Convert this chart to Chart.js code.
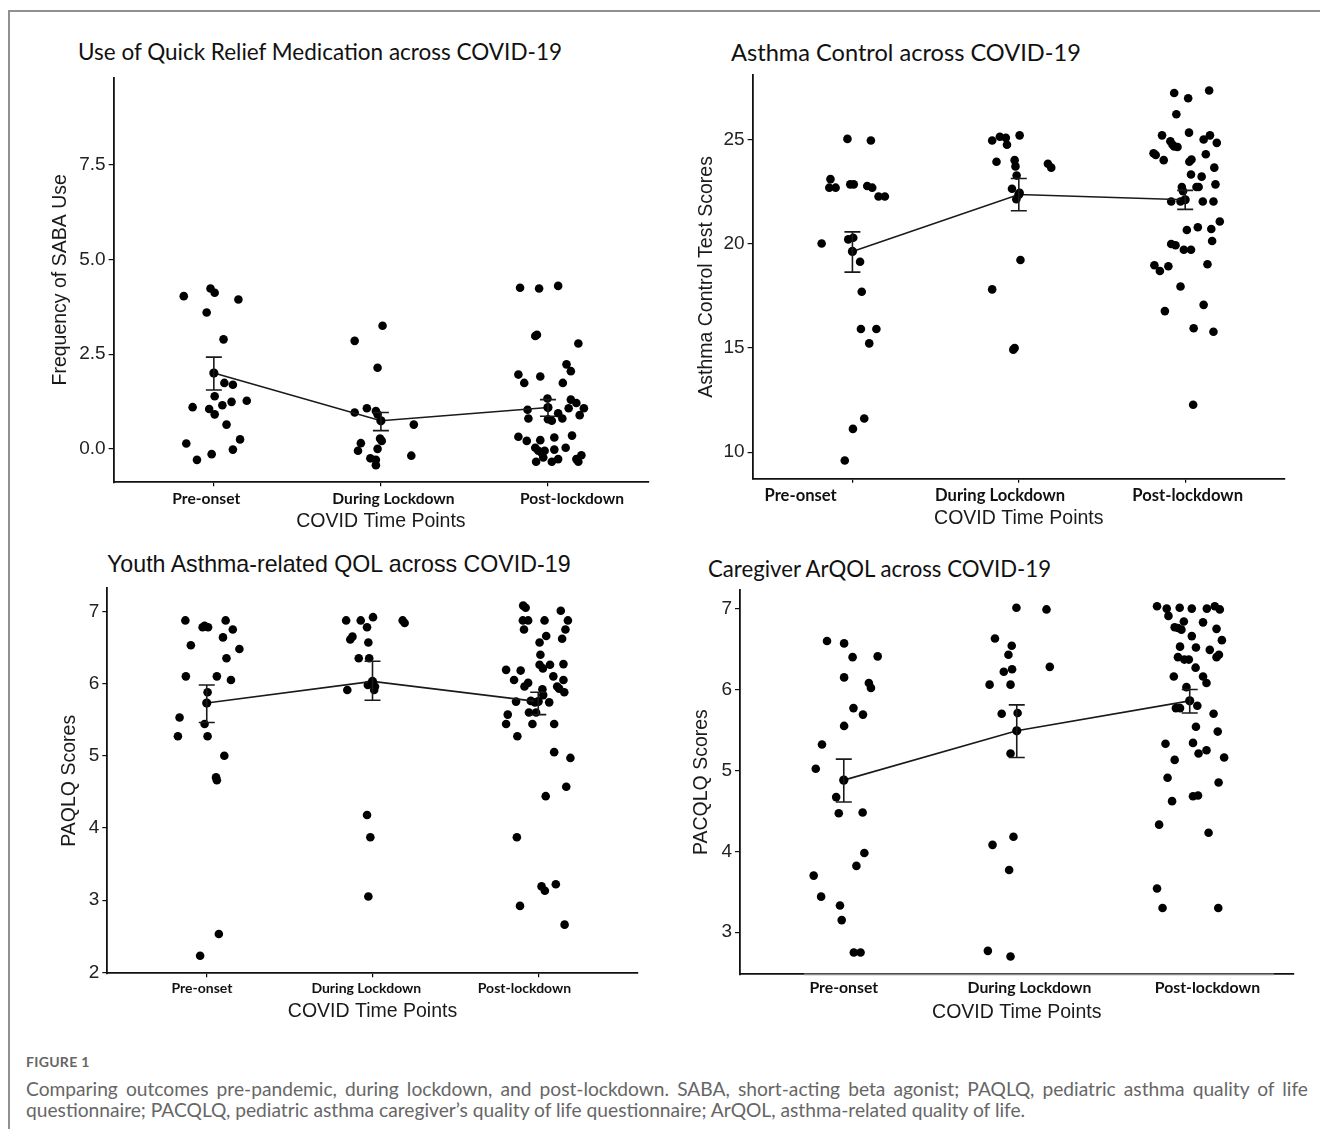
<!DOCTYPE html>
<html><head><meta charset="utf-8">
<script src="https://cdn.jsdelivr.net/npm/chart.js@4.4.1/dist/chart.umd.min.js"></script>
<style>
html,body{margin:0;padding:0;background:#fff;}
body{width:1320px;height:1129px;position:relative;overflow:hidden;}
.frame{position:absolute;left:8px;top:10px;width:1330px;height:1140px;border-top:2px solid #909090;border-left:2px solid #909090;}
canvas{position:absolute;}
.ttl{position:absolute;white-space:nowrap;color:#111;line-height:1;}
.cal{font-family:Lato,sans-serif;}
.ari{font-family:'Liberation Sans',Arial,sans-serif;}
.cap{position:absolute;font-family:Lato,sans-serif;color:#666;white-space:nowrap;line-height:1;}
</style></head>
<body>
<div class="frame"></div>
<div class="ttl cal" id="t1" style="left:78px;top:41px;font-size:22.5px;">Use of Quick Relief Medication across COVID-19</div>
<div class="ttl cal" id="t2" style="left:731px;top:41px;font-size:23.6px;">Asthma Control across COVID-19</div>
<div class="ttl ari" id="t3" style="left:107px;top:553px;font-size:23.2px;">Youth Asthma-related QOL across COVID-19</div>
<div class="ttl cal" id="t4" style="left:708px;top:558px;font-size:22.2px;">Caregiver ArQOL across COVID-19</div>
<canvas id="c1" width="650" height="500" style="left:10px;top:40px;"></canvas>
<canvas id="c2" width="645" height="500" style="left:665px;top:40px;"></canvas>
<canvas id="c3" width="650" height="480" style="left:10px;top:560px;"></canvas>
<canvas id="c4" width="645" height="480" style="left:665px;top:560px;"></canvas>
<div class="cap" style="left:26px;top:1055px;font-size:14px;font-weight:700;letter-spacing:0.3px;">FIGURE 1</div>
<div class="cap" style="left:26px;top:1079px;font-size:19.2px;width:1282px;text-align:justify;text-align-last:justify;">Comparing outcomes pre-pandemic, during lockdown, and post-lockdown. SABA, short-acting beta agonist; PAQLQ, pediatric asthma quality of life</div>
<div class="cap" style="left:26px;top:1100px;font-size:19.2px;">questionnaire; PACQLQ, pediatric asthma caregiver’s quality of life questionnaire; ArQOL, asthma-related quality of life.</div>
<script>
// ---------- DATA ----------
const categories = ["Pre-onset", "During Lockdown", "Post-lockdown"];
const xAxisTitle = "COVID Time Points";

// Panel 1: Frequency of SABA use
const sabaPre = [[0.82,4.03],[0.98,4.23],[1.005,4.12],[1.147,3.94],[0.957,3.60],[1.058,2.89],[1.063,1.74],[1.114,1.69],[1.005,1.39],[1.197,1.27],[0.873,1.10],[1.051,1.15],[1.106,1.24],[0.972,1.05],[1.005,0.91],[1.076,0.64],[1.157,0.25],[0.835,0.14],[0.987,-0.14],[1.114,-0.02],[0.899,-0.29]];
const sabaDuring = [[1.843,2.85],[2.01,3.25],[1.98,2.14],[1.843,0.96],[1.916,1.07],[1.97,1.0],[1.98,0.91],[2.197,0.64],[1.88,0.15],[1.995,0.27],[2.005,0.21],[1.863,-0.05],[1.98,0.0],[1.937,-0.25],[1.97,-0.29],[1.97,-0.43],[2.182,-0.18]];
const sabaPost = [[2.833,4.25],[2.947,4.23],[3.061,4.30],[2.924,2.98],[2.934,3.01],[3.182,2.78],[3.111,2.23],[3.137,2.05],[2.823,1.96],[2.954,1.91],[2.858,1.74],[3.089,1.74],[2.997,1.33],[3.137,1.30],[3.17,1.21],[3.124,1.07],[3.215,1.07],[2.878,1.03],[3.061,0.94],[3.19,0.89],[2.883,0.80],[3.0,0.78],[3.086,0.80],[3.023,0.74],[2.823,0.32],[2.873,0.21],[2.954,0.23],[3.038,0.30],[3.144,0.35],[2.924,0.03],[2.942,-0.05],[2.98,-0.05],[3.038,-0.02],[3.106,0.03],[2.929,-0.34],[2.972,-0.23],[3.023,-0.34],[3.061,-0.27],[3.17,-0.27],[3.2,-0.17],[3.182,-0.34],[2.962,-0.11]];
const sabaMean = [2.0, 0.74, 1.09];
const sabaLow = [1.555, 0.48, 0.86];
const sabaHigh = [2.42, 0.96, 1.30];
const sabaTicks = [0, 2.5, 5, 7.5];

// Panel 2: Asthma Control Test
const actPre = [[0.97,25.03],[1.111,24.95],[0.868,23.10],[0.861,22.69],[0.899,22.69],[0.987,22.85],[1.008,22.85],[1.089,22.77],[1.119,22.69],[1.157,22.27],[1.195,22.27],[0.815,20.01],[0.975,20.21],[1.005,20.29],[1.046,19.14],[1.056,17.70],[1.051,15.91],[1.144,15.91],[1.101,15.22],[1.071,11.62],[1.003,11.12],[0.954,9.60]];
const actDuring = [[1.84,24.95],[1.886,25.13],[1.922,25.08],[1.929,24.75],[2.005,25.20],[1.866,23.93],[1.975,24.01],[1.98,23.71],[1.987,23.27],[2.175,23.84],[2.195,23.65],[1.959,22.64],[2.005,22.44],[1.985,22.14],[2.01,19.22],[1.84,17.81],[1.967,14.92],[1.975,15.0]];
const actPost = [[2.934,27.23],[3.144,27.35],[3.018,26.98],[2.947,26.21],[2.861,25.20],[3.023,25.33],[2.911,24.92],[2.924,24.75],[2.934,24.67],[2.954,24.64],[3.111,25.0],[3.149,25.20],[3.19,24.84],[2.81,24.34],[2.823,24.26],[2.871,24.01],[3.025,23.93],[3.038,24.04],[3.124,24.29],[3.175,23.65],[3.035,23.32],[3.099,23.22],[2.98,22.72],[3.068,22.72],[3.081,22.72],[3.182,22.85],[2.916,22.03],[3.106,22.03],[3.17,22.03],[3.208,21.07],[3.01,20.66],[3.076,20.79],[3.157,20.71],[2.916,19.99],[2.942,19.93],[2.992,19.71],[3.035,19.71],[3.162,20.13],[2.815,18.97],[2.848,18.69],[2.899,18.92],[3.134,19.02],[2.972,17.95],[3.111,17.07],[2.878,16.77],[3.051,15.95],[3.17,15.78],[3.048,12.28],[2.987,22.52],[2.972,22.03]];
const actMean = [19.63, 22.36, 22.11];
const actLow = [18.64, 21.58, 21.65];
const actHigh = [20.57, 23.13, 22.56];
const actTicks = [10, 15, 20, 25];

// Panel 3: PAQLQ
const paqlqPre = [[0.871,6.875],[0.904,6.53],[0.975,6.78],[0.987,6.80],[1.008,6.78],[1.114,6.875],[1.157,6.75],[1.098,6.64],[1.197,6.48],[1.119,6.35],[0.874,6.10],[1.061,6.10],[1.146,6.05],[1.005,5.88],[0.836,5.53],[0.987,5.44],[0.826,5.27],[1.005,5.27],[1.106,5.0],[1.056,4.70],[1.061,4.66],[1.073,2.53],[0.96,2.23]];
const paqlqDuring = [[1.841,6.875],[1.929,6.875],[2.003,6.92],[1.967,6.78],[2.182,6.875],[2.194,6.84],[1.879,6.65],[1.866,6.61],[1.975,6.57],[1.917,6.35],[1.98,6.35],[1.972,5.98],[2.015,5.96],[1.848,5.91],[2.01,5.91],[1.967,4.18],[1.987,3.87],[1.975,3.05]];
const paqlqPost = [[2.909,7.08],[2.924,7.05],[3.136,7.01],[2.907,6.875],[2.939,6.875],[3.038,6.875],[3.179,6.875],[2.914,6.75],[3.164,6.75],[3.048,6.66],[3.008,6.57],[3.144,6.62],[3.013,6.40],[2.806,6.19],[2.894,6.18],[3.008,6.26],[3.028,6.21],[3.071,6.26],[3.152,6.27],[2.854,6.05],[2.939,6.01],[2.917,5.96],[3.091,6.10],[3.152,6.05],[3.114,5.96],[3.126,5.93],[3.157,5.88],[3.025,5.92],[3.03,5.84],[2.866,5.75],[2.955,5.76],[2.98,5.74],[3.066,5.74],[2.944,5.60],[2.987,5.60],[2.816,5.57],[2.806,5.44],[2.965,5.44],[3.096,5.44],[2.874,5.27],[3.096,5.05],[3.194,4.97],[3.169,4.57],[3.045,4.44],[2.871,3.87],[3.106,3.22],[3.02,3.19],[3.04,3.13],[2.89,2.92],[3.159,2.66]];
const paqlqMean = [5.73, 6.03, 5.75];
const paqlqLow = [5.46, 5.77, 5.57];
const paqlqHigh = [5.98, 6.31, 5.88];
const paqlqTicks = [2, 3, 4, 5, 6, 7];

// Panel 4: PACQLQ
const pacqlqPre = [[0.903,6.60],[1.002,6.57],[1.051,6.40],[1.196,6.41],[1.002,6.15],[1.145,6.08],[1.157,6.02],[1.056,5.77],[1.111,5.69],[1.002,5.55],[0.874,5.32],[0.838,5.02],[0.956,4.67],[0.971,4.47],[1.109,4.48],[1.119,3.98],[1.073,3.82],[0.826,3.70],[0.869,3.44],[0.978,3.33],[0.988,3.15],[1.058,2.75],[1.097,2.75]];
const pacqlqDuring = [[1.998,7.01],[2.172,6.99],[1.874,6.63],[1.971,6.54],[1.952,6.43],[1.925,6.22],[1.973,6.25],[2.191,6.28],[1.843,6.06],[1.964,6.06],[1.913,5.70],[2.005,5.71],[1.964,5.21],[1.86,4.08],[1.981,4.18],[1.956,3.77],[1.833,2.77],[1.964,2.70]];
const pacqlqPost = [[2.811,7.03],[2.867,7.0],[2.942,7.01],[3.012,7.0],[3.099,7.0],[3.145,7.03],[3.174,6.99],[2.877,6.91],[2.966,6.84],[3.077,6.83],[2.913,6.77],[2.932,6.76],[2.952,6.74],[3.155,6.75],[3.012,6.66],[3.186,6.61],[2.944,6.53],[3.036,6.52],[3.116,6.49],[3.169,6.43],[3.155,6.40],[2.932,6.40],[2.969,6.37],[2.995,6.37],[3.034,6.27],[2.908,6.16],[3.077,6.16],[3.097,6.08],[2.981,6.03],[2.92,5.77],[2.944,5.77],[3.044,5.80],[3.138,5.70],[3.036,5.54],[3.162,5.48],[2.86,5.33],[3.019,5.34],[3.051,5.21],[3.097,5.25],[3.199,5.16],[2.913,5.13],[2.872,4.91],[3.167,4.85],[2.898,4.62],[3.019,4.68],[3.048,4.69],[2.823,4.33],[3.109,4.23],[2.811,3.54],[2.843,3.30],[3.165,3.30]];
const pacqlqMean = [4.88, 5.49, 5.86];
const pacqlqLow = [4.61, 5.16, 5.71];
const pacqlqHigh = [5.14, 5.81, 6.00];
const pacqlqTicks = [3, 4, 5, 6, 7];

// ---------- PLUGINS ----------
const errPlugin = {
  id: 'errbars',
  afterDatasetsDraw(chart, args, o) {
    const {ctx, scales: {x, y}} = chart;
    ctx.save();
    ctx.strokeStyle = '#1a1a1a';
    ctx.lineWidth = 1.6;
    o.low.forEach((l, i) => {
      const px = x.getPixelForValue(i + 1);
      const y1 = y.getPixelForValue(l), y2 = y.getPixelForValue(o.high[i]);
      ctx.beginPath();
      ctx.moveTo(px, y1); ctx.lineTo(px, y2);
      ctx.moveTo(px - o.cap, y1); ctx.lineTo(px + o.cap, y1);
      ctx.moveTo(px - o.cap, y2); ctx.lineTo(px + o.cap, y2);
      ctx.stroke();
    });
    ctx.restore();
  }
};
const xLabelPlugin = {
  id: 'xlab',
  afterDraw(chart, args, o) {
    const {ctx, scales: {x}, chartArea} = chart;
    ctx.save();
    if (o.shade) {
      ctx.strokeStyle = o.shade.color; ctx.lineWidth = 1.8;
      ctx.beginPath();
      ctx.moveTo(chartArea.left + o.shade.from, chartArea.bottom);
      ctx.lineTo(chartArea.right - o.shade.to, chartArea.bottom);
      ctx.stroke();
    }
    ctx.font = o.font;
    ctx.fillStyle = '#111';
    ctx.textAlign = 'center';
    ctx.textBaseline = 'middle';
    categories.forEach((t, i) => {
      ctx.fillText(t, x.getPixelForValue(i + 1) + o.dx[i], chartArea.bottom + o.dy);
    });
    ctx.restore();
  }
};

function makePanel(p) {
  const cv = document.getElementById(p.id);
  const W = cv.width, H = cv.height;
  const pts = [].concat(p.pre, p.during, p.post).map(a => ({x: a[0], y: a[1]}));
  new Chart(cv, {
    type: 'scatter',
    data: {
      datasets: [
        {type: 'line', data: p.mean.map((m, i) => ({x: i + 1, y: m})), borderColor: '#1a1a1a', borderWidth: 1.6,
         pointRadius: 4.6, pointBackgroundColor: '#000', pointBorderWidth: 0, fill: false, tension: 0},
        {data: pts, pointRadius: 4.3, backgroundColor: '#000', borderWidth: 0}
      ]
    },
    options: {
      responsive: false, animation: false, devicePixelRatio: 1,
      layout: {padding: {left: 0, top: p.area.top - p.pos.top, right: p.pos.left + W - p.area.right, bottom: 0}},
      plugins: {
        legend: {display: false}, tooltip: {enabled: false},
        errbars: {low: p.low, high: p.high, cap: 8},
        xlab: {font: p.labelFont, dx: p.dx, dy: p.dy, shade: p.shade}
      },
      scales: {
        x: {
          type: 'linear', min: 0.4, max: 3.6,
          afterBuildTicks: s => { s.ticks = [1, 2, 3].map(v => ({value: v})); },
          afterFit: s => { s.height = p.pos.top + H - p.area.bottom; s.paddingLeft = 0; s.paddingRight = 0; },
          ticks: {display: false},
          grid: {drawOnChartArea: false, drawTicks: p.xTickMarks, tickLength: 4, color: '#000', lineWidth: 1.2},
          border: {display: true, color: '#111', width: 1.8},
          title: {display: true, text: xAxisTitle, color: '#1a1a1a',
                  font: {family: 'Liberation Sans', size: 19.5}, padding: {top: 0, bottom: p.xTitlePad}}
        },
        y: {
          type: 'linear', min: p.ymin, max: p.ymax,
          afterBuildTicks: s => { s.ticks = p.ticks.map(v => ({value: v})); },
          afterFit: s => { s.width = p.area.left - p.pos.left; s.paddingTop = 0; s.paddingBottom = 0; },
          ticks: {color: '#222', padding: 3, font: {family: 'Liberation Sans', size: 19},
                  callback: v => p.fmt(v)},
          grid: {drawOnChartArea: false, drawTicks: true, tickLength: 5, color: '#111', lineWidth: 1.2},
          border: {display: true, color: '#111', width: 1.8},
          title: {display: true, text: p.yTitle, color: '#1a1a1a',
                  font: {family: 'Liberation Sans', size: 19.5}, padding: {top: p.yTitlePad, bottom: 0}}
        }
      }
    },
    plugins: [errPlugin, xLabelPlugin]
  });
}

function draw() {
  makePanel({id: 'c1', pos: {left: 10, top: 40}, area: {left: 113.6, right: 648.2, top: 77.5, bottom: 482.2},
    ymin: -0.88, ymax: 9.8, ticks: sabaTicks, fmt: v => v.toFixed(1),
    pre: sabaPre, during: sabaDuring, post: sabaPost, mean: sabaMean, low: sabaLow, high: sabaHigh,
    yTitle: 'Frequency of SABA Use', yTitlePad: 61 - 10 - 11.7, xTitlePad: 540 - 521.8 - 11.7,
    labelFont: 'bold 15.6px Lato', dx: [-7.6, 12.6, 24], dy: 17.2, xTickMarks: true});
  makePanel({id: 'c2', pos: {left: 665, top: 40}, area: {left: 752.6, right: 1285, top: 75.1, bottom: 478.7},
    ymin: 8.73, ymax: 28.09, ticks: actTicks, fmt: v => String(v),
    pre: actPre, during: actDuring, post: actPost, mean: actMean, low: actLow, high: actHigh,
    yTitle: 'Asthma Control Test Scores', yTitlePad: 706.3 - 665 - 11.7, xTitlePad: 540 - 518.3 - 11.7,
    labelFont: 'bold 16.6px Lato', dx: [-51.8, -18.7, 2.5], dy: 17.3, xTickMarks: true});
  makePanel({id: 'c3', pos: {left: 10, top: 560}, area: {left: 107.3, right: 637.7, top: 588.3, bottom: 973.3},
    ymin: 1.986, ymax: 7.32, ticks: paqlqTicks, fmt: v => String(v),
    pre: paqlqPre, during: paqlqDuring, post: paqlqPost, mean: paqlqMean, low: paqlqLow, high: paqlqHigh,
    yTitle: 'PAQLQ Scores', yTitlePad: 69.4 - 10 - 11.7, xTitlePad: 1040 - 1011.7 - 11.7,
    labelFont: 'bold 14px Lato', dx: [-4.8, -6.2, -13.8], dy: 15, xTickMarks: true});
  makePanel({id: 'c4', pos: {left: 665, top: 560}, area: {left: 740, right: 1293.5, top: 590, bottom: 974.3},
    ymin: 2.48, ymax: 7.23, ticks: pacqlqTicks, fmt: v => String(v),
    pre: pacqlqPre, during: pacqlqDuring, post: pacqlqPost, mean: pacqlqMean, low: pacqlqLow, high: pacqlqHigh,
    yTitle: 'PACQLQ Scores', yTitlePad: 702.1 - 665 - 11.7, xTitlePad: 1040 - 1012.7 - 11.7,
    labelFont: 'bold 15.8px Lato', dx: [0, 12.7, 17.7], dy: 14, xTickMarks: false,
    shade: {color: '#8a8a8a', from: 64, to: 19.5}});
}
Promise.all(['22px Lato', 'bold 15px Lato', '19px "Liberation Sans"'].map(f => document.fonts.load(f)))
  .then(draw, draw);
</script>
</body></html>
